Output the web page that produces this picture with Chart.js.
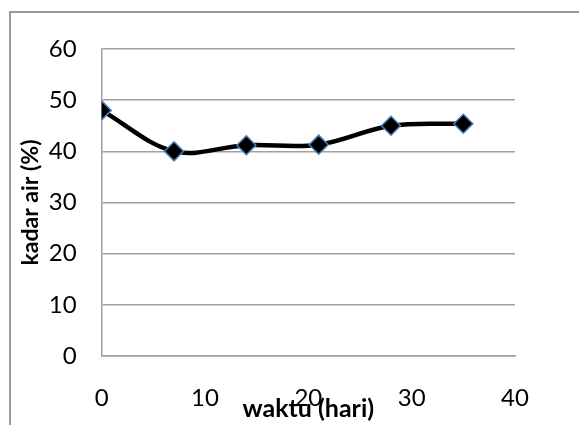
<!DOCTYPE html>
<html>
<head>
<meta charset="utf-8">
<script src="https://cdn.jsdelivr.net/npm/chart.js@4.4.0/dist/chart.umd.min.js"></script>
<style>
html,body{margin:0;padding:0;background:#fff;}
#wrap{position:relative;width:579px;height:425px;}
canvas{display:block;}
</style>
</head>
<body>
<div id="wrap"><canvas id="c" width="579" height="425"></canvas></div>
<script>
// Data
const days = [0, 7, 14, 21, 28, 35];
const moisture = [48.0, 40.0, 41.2, 41.3, 45.0, 45.4];
const xTickValues = [0, 10, 20, 30, 40];
const yTickValues = [0, 10, 20, 30, 40, 50, 60];
const xTitle = 'waktu (hari)';
const yTitle = 'kadar air (%)';

const points = days.map((d, i) => ({x: d, y: moisture[i]}));

const frame = {
  id: 'frame',
  beforeDraw(chart) {
    const ctx = chart.ctx;
    ctx.save();
    ctx.fillStyle = '#fff';
    ctx.fillRect(0, 0, chart.width, chart.height);
    ctx.strokeStyle = '#9a9a9a';
    ctx.lineWidth = 2;
    ctx.strokeRect(10, 12, 700, 600);
    ctx.restore();
  }
};

new Chart(document.getElementById('c'), {
  type: 'scatter',
  data: {
    datasets: [{
      data: points,
      showLine: true,
      borderColor: '#000',
      borderWidth: 4.5,
      tension: 0.35,
      pointStyle: 'rectRot',
      pointRadius: 9.5,
      pointHoverRadius: 9.5,
      pointBackgroundColor: '#000',
      pointBorderColor: '#4a7ebb',
      pointBorderWidth: 1.5
    }]
  },
  options: {
    responsive: false,
    animation: false,
    devicePixelRatio: 1,
    layout: {padding: {left: 0, top: 49, right: 64, bottom: 0}},
    plugins: {legend: {display: false}, tooltip: {enabled: false}},
    scales: {
      x: {
        type: 'linear',
        min: 0, max: 40,
        afterBuildTicks(s) { s.ticks = xTickValues.map(v => ({value: v})); },
        afterFit(s) { s.height = 69; },
        grid: {display: false, drawTicks: false},
        border: {display: true, color: '#a0a0a0', width: 1.5},
        ticks: {
          color: '#000',
          font: {family: 'Lato', size: 24},
          padding: 28,
          maxRotation: 0
        },
        title: {
          display: true,
          text: xTitle,
          color: '#000',
          font: {family: 'Lato', size: 25, weight: 'bold'},
          padding: {top: 0, bottom: 1}
        }
      },
      y: {
        type: 'linear',
        min: 0, max: 60,
        afterBuildTicks(s) { s.ticks = yTickValues.map(v => ({value: v})); },
        afterFit(s) { s.width = 101.7; },
        grid: {display: true, color: '#a0a0a0', lineWidth: 1.5, drawTicks: false},
        border: {display: true, color: '#a0a0a0', width: 1.5},
        ticks: {
          color: '#000',
          font: {family: 'Lato', size: 24},
          padding: 25
        },
        title: {
          display: true,
          text: yTitle,
          color: '#000',
          font: {family: 'Lato', size: 23, weight: 'bold'},
          padding: {top: 17, bottom: 0}
        }
      }
    }
  },
  plugins: [frame]
});
</script>
</body>
</html>
